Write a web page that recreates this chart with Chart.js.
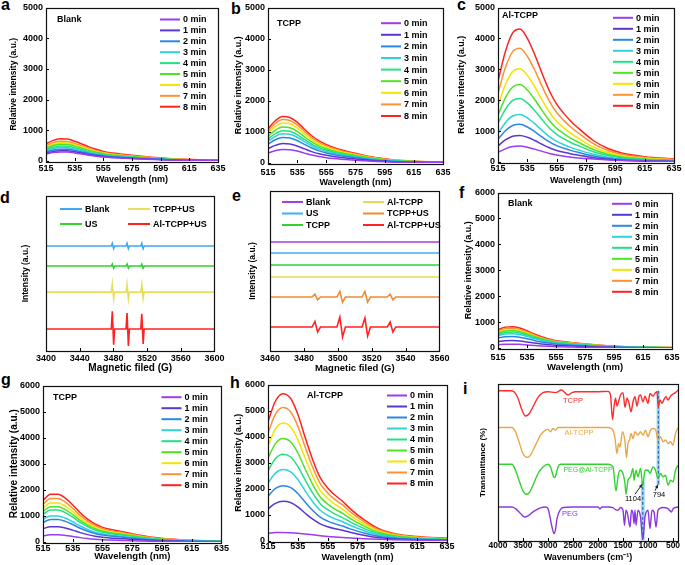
<!DOCTYPE html>
<html><head><meta charset="utf-8">
<script src="https://cdn.jsdelivr.net/npm/chart.js@4.4.0/dist/chart.umd.min.js"></script>
<style>
html,body{margin:0;padding:0;background:#fff;width:685px;height:565px;overflow:hidden;position:relative;}
.p{position:absolute;}
.lt{position:absolute;font-family:"Liberation Sans",Arial,sans-serif;font-weight:bold;font-size:16px;line-height:16px;color:#000;}
</style></head><body>
<div class="lt" style="left:1px;top:-3.5px">a</div>
<div class="lt" style="left:231px;top:0.5px">b</div>
<div class="lt" style="left:457px;top:-3.5px">c</div>
<div class="lt" style="left:0px;top:189.8px">d</div>
<div class="lt" style="left:232px;top:188.2px">e</div>
<div class="lt" style="left:459px;top:184.8px">f</div>
<div class="lt" style="left:1px;top:371.5px">g</div>
<div class="lt" style="left:230px;top:374.8px">h</div>
<div class="lt" style="left:463px;top:380.5px">i</div>
<script>
// ---------------- DATA ----------------
const WL = [515, 520, 525, 530, 535, 540, 545, 550, 555, 560, 565, 570, 580, 590, 600, 615, 635];
const WL_TICKS = [515, 535, 555, 575, 595, 615, 635];
const Y5_TICKS = [0, 1000, 2000, 3000, 4000, 5000];
const Y6_TICKS = [0, 1000, 2000, 3000, 4000, 5000, 6000];
const TIMES = ['0 min', '1 min', '2 min', '3 min', '4 min', '5 min', '6 min', '7 min', '8 min'];

// (a) Blank, 5000 scale
const A_BLANK = [
  [228,276,297,294,264,228,189,156,129,111,99,87,66,48,33,21,12],
  [258,313,337,333,299,258,214,177,146,126,112,99,75,54,37,24,14],
  [296,359,386,382,343,296,246,203,168,144,129,113,86,62,43,27,16],
  [334,405,436,431,387,334,277,229,189,163,145,128,97,70,48,31,18],
  [372,451,485,480,431,372,309,255,211,181,162,142,108,78,54,34,20],
  [418,506,545,539,484,418,347,286,237,204,182,160,121,88,61,39,22],
  [456,552,594,588,528,456,378,312,258,222,198,174,132,96,66,42,24],
  [494,598,644,637,572,494,410,338,280,241,215,189,143,104,72,46,26],
  [555,672,723,715,642,555,460,380,314,270,241,212,161,117,80,51,29]
];
// (b) TCPP, 5000 scale
const B_TCPP = [
  [321,396,436,427,383,317,255,207,172,145,123,106,75,48,31,18,11],
  [460,567,624,611,548,454,365,296,246,208,176,151,107,69,44,25,16],
  [606,747,822,805,722,598,481,390,324,274,232,199,141,91,58,33,21],
  [694,855,941,922,827,684,551,447,371,314,266,228,162,105,67,38,24],
  [767,945,1040,1019,914,756,609,494,410,347,294,252,179,116,74,42,26],
  [854,1053,1158,1135,1018,842,679,550,456,386,328,281,199,129,82,47,29],
  [949,1170,1287,1261,1131,936,754,611,507,429,364,312,221,143,91,52,33],
  [1029,1269,1396,1368,1227,1015,818,663,550,465,395,338,240,155,99,56,35],
  [1102,1359,1495,1465,1314,1087,876,710,589,498,423,362,257,166,106,60,38]
];
// (c) Al-TCPP, 5000 scale
const C_ALTCPP = [
  [312,426,499,515,478,416,343,276,224,187,156,130,95,65,45,28,15],
  [522,713,835,861,800,696,574,461,374,313,261,218,139,87,57,35,19],
  [738,1009,1181,1218,1132,984,812,652,529,443,369,308,197,123,80,49,27],
  [930,1271,1488,1535,1426,1240,1023,822,667,558,465,388,248,155,101,62,34],
  [1248,1706,1997,2059,1914,1664,1373,1102,894,749,624,520,333,208,135,83,46],
  [1518,2075,2429,2505,2328,2024,1670,1341,1088,911,759,633,405,253,164,101,56],
  [1830,2501,2928,3020,2806,2440,2013,1617,1312,1098,915,763,488,305,198,122,67],
  [2232,3050,3571,3683,3422,2976,2455,1972,1600,1339,1116,930,595,372,242,149,82],
  [2610,3567,4176,4307,4002,3480,2871,2306,1871,1566,1305,1088,696,435,283,174,96]
];
// (f) Blank, 6000 scale
const F_BLANK = [
  [128,146,149,140,120,98,78,63,51,45,39,33,24,17,11,6,3],
  [247,281,287,270,232,189,151,122,99,87,75,64,46,32,20,12,6],
  [383,437,446,419,360,293,234,189,153,135,117,99,72,50,32,18,9],
  [476,543,554,521,448,364,291,235,190,168,146,123,90,62,39,22,11],
  [527,601,614,577,496,403,322,260,211,186,161,136,99,68,43,25,12],
  [578,660,673,632,544,442,354,286,231,204,177,150,109,75,48,27,14],
  [612,698,713,670,576,468,374,302,245,216,187,158,115,79,50,29,14],
  [655,747,762,716,616,501,400,323,262,231,200,169,123,85,54,31,15],
  [706,805,822,772,664,540,432,349,282,249,216,183,133,91,58,33,17]
];
// (g) TCPP, 6000 scale
const G_TCPP = [
  [238,274,274,252,213,168,132,104,84,73,64,56,39,25,17,10,6],
  [510,588,588,540,456,360,282,222,180,156,138,120,84,54,36,21,12],
  [748,862,862,792,669,528,414,326,264,229,202,176,123,79,53,31,18],
  [867,1000,1000,918,775,612,479,377,306,265,235,204,143,92,61,36,20],
  [1063,1225,1225,1125,950,750,588,463,375,325,288,250,175,113,75,44,25],
  [1173,1352,1352,1242,1049,828,649,511,414,359,317,276,193,124,83,48,28],
  [1301,1499,1499,1377,1163,918,719,566,459,398,352,306,214,138,92,54,31],
  [1445,1666,1666,1530,1292,1020,799,629,510,442,391,340,238,153,102,60,34],
  [1590,1833,1833,1683,1421,1122,879,692,561,486,430,374,262,168,112,65,37]
];
// (h) Al-TCPP, 6000 scale
const H_ALTCPP = [
  [300,325,330,320,300,270,240,205,175,150,130,115,90,65,50,35,25],
  [1231,1444,1520,1474,1307,1064,836,654,547,471,410,334,213,122,76,46,27],
  [1717,2014,2120,2056,1823,1484,1166,912,763,657,572,466,297,170,106,64,38],
  [2219,2603,2740,2658,2356,1918,1507,1178,986,849,740,603,384,219,137,82,49],
  [2697,3164,3330,3230,2864,2331,1832,1432,1199,1032,899,733,466,266,167,100,60],
  [3183,3734,3930,3812,3380,2751,2162,1690,1415,1218,1061,865,550,314,197,118,71],
  [3661,4294,4520,4384,3887,3164,2486,1944,1627,1401,1220,994,633,362,226,136,81],
  [4147,4864,5120,4966,4403,3584,2816,2202,1843,1587,1382,1126,717,410,256,154,92],
  [4577,5368,5650,5481,4859,3955,3108,2430,2034,1752,1526,1243,791,452,283,170,102]
];

// (d) EPR
const D_LABELS = ['Blank', 'US', 'TCPP+US', 'Al-TCPP+US'];
const D_TICKS = [3400, 3440, 3480, 3520, 3560, 3600];
const D_FIELD = [3400, 3477.5, 3478.7, 3480.3, 3481.5, 3495, 3496.2, 3497.8, 3499, 3512.5, 3513.7, 3515.3, 3516.5, 3600];
const D_BLANK = [67.7, 67.7, 69.4, 66, 67.7, 67.7, 69.4, 66, 67.7, 67.7, 69.4, 66, 67.7, 67.7];
const D_US = [54.8, 54.8, 56.1, 53.5, 54.8, 54.8, 56.1, 53.5, 54.8, 54.8, 56.1, 53.5, 54.8, 54.8];
const D_TCPPUS = [38, 38, 43.2, 33.7, 38, 38, 43, 33.5, 38, 38, 42.8, 34, 38, 38];
const D_ALUS = [14.2, 14.2, 25.6, 4.1, 14.2, 14.2, 24.5, 3.2, 14.2, 14.2, 24, 4.5, 14.2, 14.2];

// (e) EPR
const E_LABELS = ['Blank', 'US', 'TCPP', 'Al-TCPP', 'TCPP+US', 'Al-TCPP+US'];
const E_TICKS = [3460, 3480, 3500, 3520, 3540, 3560];
const E_FIELD = [3460, 3484.8, 3486.5, 3488.1, 3489.8, 3499.5, 3501.2, 3502.8, 3504.5, 3514.3, 3516, 3517.6, 3519.3, 3529.2, 3530.9, 3532.5, 3534.2, 3560];
const E_BLANK = [68.1, 68.1, 68.1, 68.1, 68.1, 68.1, 68.1, 68.1, 68.1, 68.1, 68.1, 68.1, 68.1, 68.1, 68.1, 68.1, 68.1, 68.1];
const E_US = [61.25, 61.25, 61.25, 61.25, 61.25, 61.25, 61.25, 61.25, 61.25, 61.25, 61.25, 61.25, 61.25, 61.25, 61.25, 61.25, 61.25, 61.25];
const E_TCPP = [53.75, 53.75, 53.75, 53.75, 53.75, 53.75, 53.75, 53.75, 53.75, 53.75, 53.75, 53.75, 53.75, 53.75, 53.75, 53.75, 53.75, 53.75];
const E_ALTCPP = [46.25, 46.25, 46.25, 46.25, 46.25, 46.25, 46.25, 46.25, 46.25, 46.25, 46.25, 46.25, 46.25, 46.25, 46.25, 46.25, 46.25, 46.25];
const E_TCPPUS = [33.75, 33.75, 35.6, 32, 33.75, 33.75, 37.2, 30.6, 33.75, 33.75, 37.2, 30.6, 33.75, 33.75, 35.6, 32, 33.75, 33.75];
const E_ALUS = [15, 15, 18.5, 11.9, 15, 15, 21.2, 8.8, 15, 15, 20.6, 9.4, 15, 15, 18.1, 11.9, 15, 15];

// (i) FTIR
const I_TICKS = [4000, 3500, 3000, 2500, 2000, 1500, 1000, 500];
const I_TCPP_WN = [4000,3750,3680,3600,3520,3450,3380,3300,3200,3100,3000,2850,2730,2600,2520,2450,2000,1800,1750,1710,1680,1650,1620,1590,1550,1500,1460,1420,1380,1340,1300,1260,1220,1180,1150,1100,1060,1000,960,900,850,820,794,760,720,680,640,600,550,500,450,400];
const I_TCPP_T = [95.7,95.7,95.1,90.9,83.4,79.6,80.9,85.5,91.5,94.5,95.1,94.5,96.2,93.0,94.5,95.1,95.1,95.3,93.0,77.4,85.5,90.9,86.0,88.7,93.0,94.5,85.1,90.9,87.7,82.3,88.7,91.9,86.0,92.3,93.0,88.7,92.3,87.7,94.0,92.3,94.5,95.1,85.5,89.8,87.7,90.2,91.9,89.8,92.3,93.6,94.5,96.2];
const I_AL_WN = [4000,3720,3650,3580,3500,3420,3350,3250,3150,3050,3000,2950,2900,2850,2800,1800,1700,1660,1620,1590,1560,1510,1460,1430,1400,1370,1340,1300,1260,1200,1150,1100,1050,1000,950,900,850,800,750,700,650,600,550,500,450,400];
const I_AL_T = [72.3,72.3,69.6,63.2,55.7,53.2,54.7,61.1,67.4,70.6,71.1,69.6,71.7,70.6,72.3,72.3,70.6,65.3,55.7,62.1,59.8,69.6,63.2,53.2,62.1,64.3,68.5,65.3,69.6,67.4,69.6,67.4,70.6,66.4,70.6,71.7,71.1,64.3,66.4,63.2,64.3,62.1,63.2,61.1,68.5,72.3];
const I_PEGAL_WN = [4000,3720,3650,3580,3500,3440,3380,3300,3200,3100,3000,2950,2900,2880,2850,2800,2750,1800,1700,1640,1600,1560,1500,1460,1440,1400,1350,1300,1280,1240,1200,1150,1104,1060,1000,960,900,850,800,750,700,650,600,550,500,450,400];
const I_PEGAL_T = [48.9,48.9,45.1,38.7,31.9,29.8,30.6,35.5,43.0,47.2,48.9,47.2,41.9,40.4,41.3,47.2,48.9,48.9,47.2,31.9,40.9,45.1,43.0,36.6,29.8,38.7,40.9,46.2,38.7,45.1,40.9,46.2,35.5,45.1,45.1,43.0,47.2,45.1,39.8,43.0,40.9,41.9,35.5,38.7,37.7,45.1,48.3];
const I_PEG_WN = [4000,3720,3650,3560,3470,3400,3300,3150,3050,3000,2960,2920,2880,2850,2820,2760,2700,2500,2000,1960,1920,1800,1700,1650,1600,1550,1500,1470,1440,1410,1360,1330,1300,1280,1260,1240,1200,1150,1104,1060,1000,960,920,880,840,800,700,600,530,500,400];
const I_PEG_T = [21.7,21.7,20.6,17.9,15.3,16.0,18.5,21.1,21.7,20.6,15.3,8.9,4.7,7.2,14.3,19.6,21.3,21.7,21.7,20.4,21.7,21.7,21.3,20.0,19.6,21.3,19.6,10.0,19.6,17.4,8.9,19.6,17.4,11.1,19.6,10.0,19.6,15.3,0.9,15.3,19.6,7.9,19.6,18.5,8.9,19.6,21.3,20.6,18.5,20.6,21.7];
const I_LABELS = ['TCPP', 'Al-TCPP', 'PEG@Al-TCPP', 'PEG'];
const I_PEAKS = [1104, 794];

// ---------------- STYLE ----------------
const FONT = '"Liberation Sans", Arial, sans-serif';
const TIME_COLORS = ['#9b3cf0','#5a36d2','#2a88e2','#2fd2dc','#22e184','#52e224','#f4e400','#ff9034','#ff2222'];
const D_COLORS = ['#3fa9f0', '#2fd22f', '#e6e05c', '#ff2222'];
const E_COLORS = ['#a840d8', '#3cb0f0', '#2fd22f', '#e2dc4c', '#f28a34', '#ff2222'];
const I_COLORS = ['#ff2a2a', '#e8a846', '#32d232', '#8a38e0'];

// ---------------- PLUGIN ----------------
const deco = {
  id: 'deco',
  beforeDatasetsDraw(chart, args, o) {
    if (!o.bands) return;
    const {ctx, scales: {x, y}} = chart;
    ctx.save();
    o.bands.forEach(b => {
      const x1 = x.getPixelForValue(b.x + b.hw), x2 = x.getPixelForValue(b.x - b.hw);
      const y1 = y.getPixelForValue(b.y2), y2 = y.getPixelForValue(b.y1);
      ctx.fillStyle = 'rgba(130,205,235,0.75)';
      ctx.fillRect(Math.min(x1,x2), y1, Math.abs(x2-x1), y2-y1);
      ctx.strokeStyle = '#1f4ea0'; ctx.lineWidth = 1; ctx.setLineDash([3,2]);
      const xc = x.getPixelForValue(b.x);
      ctx.beginPath(); ctx.moveTo(xc, y1); ctx.lineTo(xc, y2); ctx.stroke();
      ctx.setLineDash([]);
    });
    ctx.restore();
  },
  afterDraw(chart, args, o) {
    const {ctx, chartArea: ca, scales: {x, y}} = chart;
    ctx.save();
    ctx.strokeStyle = '#000'; ctx.lineWidth = 1;
    ctx.beginPath();
    x.ticks.forEach(t => { const px = Math.round(x.getPixelForValue(t.value)) + 0.5; ctx.moveTo(px, ca.bottom); ctx.lineTo(px, ca.bottom - 3); });
    if (y.options.ticks.display) y.ticks.forEach(t => { const py = Math.round(y.getPixelForValue(t.value)) + 0.5; ctx.moveTo(ca.left, py); ctx.lineTo(ca.left + 3, py); });
    ctx.stroke();
    ctx.lineWidth = 1.2; ctx.strokeStyle = '#111';
    ctx.strokeRect(Math.round(ca.left) + 0.5, Math.round(ca.top) + 0.5, Math.round(ca.right - ca.left), Math.round(ca.bottom - ca.top));
    if (o.legend) {
      const L = o.legend;
      ctx.font = 'bold ' + L.size + 'px ' + FONT;
      ctx.textBaseline = 'middle'; ctx.textAlign = 'left';
      chart.data.datasets.forEach((ds, i) => {
        const col = Math.floor(i / L.rows), row = i % L.rows;
        const cx = L.cols[col];
        const lx = cx < 0 ? ca.right + cx : ca.left + cx;
        const ly = ca.top + L.y0 + row * L.dy;
        ctx.strokeStyle = ds.borderColor; ctx.lineWidth = 2;
        ctx.beginPath(); ctx.moveTo(lx, ly); ctx.lineTo(lx + L.len, ly); ctx.stroke();
        ctx.fillStyle = '#000';
        ctx.fillText(ds.label, lx + L.len + L.gap, ly + 0.5);
      });
    }
    (o.arrows || []).forEach(a => {
      const x1 = x.getPixelForValue(a.x1), y1 = y.getPixelForValue(a.y1);
      const x2 = x.getPixelForValue(a.x2), y2 = y.getPixelForValue(a.y2);
      ctx.strokeStyle = '#222'; ctx.fillStyle = '#222'; ctx.lineWidth = 1;
      ctx.beginPath(); ctx.moveTo(x1, y1); ctx.lineTo(x2, y2); ctx.stroke();
      const ang = Math.atan2(y2 - y1, x2 - x1);
      ctx.beginPath(); ctx.moveTo(x2, y2);
      ctx.lineTo(x2 - 4 * Math.cos(ang - 0.45), y2 - 4 * Math.sin(ang - 0.45));
      ctx.lineTo(x2 - 4 * Math.cos(ang + 0.45), y2 - 4 * Math.sin(ang + 0.45));
      ctx.closePath(); ctx.fill();
    });
    (o.labels || []).forEach(l => {
      ctx.font = (l.weight || 'bold') + ' ' + l.size + 'px ' + FONT;
      ctx.fillStyle = l.color || '#000';
      ctx.textBaseline = 'middle';
      ctx.textAlign = l.align || 'left';
      let px, py;
      if (l.data) { px = x.getPixelForValue(l.x); py = y.getPixelForValue(l.y); }
      else { px = ca.left + l.x; py = ca.top + l.y; }
      ctx.fillText(l.text, px, py);
    });
    ctx.restore();
  }
};
Chart.register(deco);

// ---------------- LAYOUT ----------------
const LAYOUT = {
  a: {x: 9,   y: 0,   w: 220, h: 185, yw: 37, pt: 7, pr: 9, xh: 24, tp: 3.5, yts: 8.5, xts: 9},
  b: {x: 233, y: 0,   w: 223, h: 188, yw: 35, pt: 6, pr: 9, xh: 25, tp: 5.5, yts: 9,   xts: 9},
  c: {x: 456, y: 0,   w: 228, h: 186, yw: 42, pt: 7, pr: 9, xh: 24, tp: 2.5, yts: 9,   xts: 9},
  d: {x: 21,  y: 189, w: 207, h: 185, yw: 25, pt: 7, pr: 9, xh: 23, tp: 3.5, yts: 8.5, xts: 10},
  e: {x: 248, y: 184, w: 205, h: 190, yw: 22, pt: 7, pr: 9, xh: 23, tp: 3.5, yts: 8.5, xts: 9.5},
  f: {x: 463, y: 185, w: 222, h: 188, yw: 35, pt: 7, pr: 8, xh: 25, tp: 5.5, yts: 9,   xts: 9.5},
  g: {x: 8,   y: 378, w: 223, h: 184, yw: 35, pt: 7, pr: 9, xh: 20, tp: 2,   yts: 10,  xts: 9.5},
  h: {x: 233, y: 377, w: 223, h: 186, yw: 35, pt: 7, pr: 9, xh: 22, tp: 1.5, yts: 9,   xts: 9},
  i: {x: 478, y: 377, w: 207, h: 186, yw: 20, pt: 7, pr: 7, xh: 22, tp: 0.5, yts: 8,   xts: 9}
};

function makeChart(key, datasets, xc, yc, decoOpts) {
  const L = LAYOUT[key];
  const div = document.createElement('div');
  div.className = 'p';
  div.style.left = L.x + 'px'; div.style.top = L.y + 'px';
  div.style.width = L.w + 'px'; div.style.height = L.h + 'px';
  const cv = document.createElement('canvas');
  div.appendChild(cv);
  document.body.appendChild(div);
  const tickFont = {family: FONT, size: xc.tickSize || 9, weight: 'bold', lineHeight: 1};
  new Chart(cv, {
    type: 'line',
    data: {datasets},
    options: {
      responsive: true, maintainAspectRatio: false, animation: false, events: [],
      layout: {padding: {top: L.pt, right: L.pr, left: 0, bottom: 0}},
      plugins: {legend: {display: false}, tooltip: {enabled: false}, deco: decoOpts},
      elements: {point: {radius: 0}},
      scales: {
        x: {
          type: 'linear', min: xc.min, max: xc.max, reverse: !!xc.reverse,
          grid: {display: false, drawTicks: false, tickLength: 0},
          border: {display: false},
          afterBuildTicks: s => { s.ticks = xc.ticks.map(v => ({value: v})); },
          afterFit: s => { s.height = L.xh; },
          ticks: {color: '#000', font: tickFont, padding: L.tp, maxRotation: 0, autoSkip: false, callback: v => String(v)},
          title: {display: true, text: xc.title, color: '#000', padding: 0, font: {family: FONT, size: L.xts, weight: 'bold'}}
        },
        y: {
          type: 'linear', min: yc.min, max: yc.max,
          grid: {display: false, drawTicks: false, tickLength: 0},
          border: {display: false},
          afterBuildTicks: s => { s.ticks = (yc.ticks || []).map(v => ({value: v})); },
          afterFit: s => { s.width = L.yw; },
          ticks: {display: !!yc.ticks, color: '#000', font: tickFont, padding: 3, callback: v => String(v)},
          title: {display: true, text: yc.title, color: '#000', padding: 0, font: {family: FONT, size: L.yts, weight: 'bold'}}
        }
      }
    }
  });
}

function spectraSets(rows) {
  return rows.map((vals, i) => ({
    label: TIMES[i],
    data: WL.map((w, j) => ({x: w, y: vals[j]})),
    borderColor: TIME_COLORS[i], borderWidth: 1.5,
    cubicInterpolationMode: 'monotone', fill: false
  }));
}
function xySet(label, xs, ys, color, width, mono) {
  return {label, data: xs.map((v, j) => ({x: v, y: ys[j]})), borderColor: color, borderWidth: width,
          tension: 0, cubicInterpolationMode: mono ? 'monotone' : 'default', fill: false};
}

const WL_X = {min: 515, max: 635, ticks: WL_TICKS, title: 'Wavelength (nm)'};
const RI = 'Relative intensity (a.u.)';
function specLegend(y0, dy, col) { return {cols: [col], rows: 9, y0, dy, len: 20, gap: 3, size: 9}; }

makeChart('a', spectraSets(A_BLANK), WL_X, {min: 0, max: 5000, ticks: Y5_TICKS, title: RI},
  {legend: specLegend(12, 10.9, -58), labels: [{text: 'Blank', x: 11, y: 12, size: 9}]});
makeChart('b', spectraSets(B_TCPP), WL_X, {min: 0, max: 5000, ticks: Y5_TICKS, title: RI},
  {legend: specLegend(15.7, 11.6, -62), labels: [{text: 'TCPP', x: 9, y: 16, size: 9}]});
makeChart('c', spectraSets(C_ALTCPP), WL_X, {min: 0, max: 5000, ticks: Y5_TICKS, title: RI},
  {legend: specLegend(10.3, 11, -61), labels: [{text: 'Al-TCPP', x: 4, y: 8, size: 9}]});

makeChart('d', [
  xySet(D_LABELS[0], D_FIELD, D_BLANK, D_COLORS[0], 1.6),
  xySet(D_LABELS[1], D_FIELD, D_US, D_COLORS[1], 1.6),
  xySet(D_LABELS[2], D_FIELD, D_TCPPUS, D_COLORS[2], 1.6),
  xySet(D_LABELS[3], D_FIELD, D_ALUS, D_COLORS[3], 1.6)
], {min: 3400, max: 3600, ticks: D_TICKS, title: 'Magnetic filed (G)'}, {min: 0, max: 100, title: 'Intensity (a.u.)'},
  {legend: {cols: [14, 82], rows: 2, y0: 13, dy: 15, len: 22, gap: 3, size: 9}});

makeChart('e', [
  xySet(E_LABELS[0], E_FIELD, E_BLANK, E_COLORS[0], 1.6),
  xySet(E_LABELS[1], E_FIELD, E_US, E_COLORS[1], 1.6),
  xySet(E_LABELS[2], E_FIELD, E_TCPP, E_COLORS[2], 1.6),
  xySet(E_LABELS[3], E_FIELD, E_ALTCPP, E_COLORS[3], 1.6),
  xySet(E_LABELS[4], E_FIELD, E_TCPPUS, E_COLORS[4], 1.6),
  xySet(E_LABELS[5], E_FIELD, E_ALUS, E_COLORS[5], 1.6)
], {min: 3460, max: 3560, ticks: E_TICKS, title: 'Magnetic filed (G)'}, {min: 0, max: 100, title: 'Intensity (a.u.)'},
  {legend: {cols: [12, 93], rows: 3, y0: 11, dy: 11.5, len: 21, gap: 3, size: 9}});

makeChart('f', spectraSets(F_BLANK), WL_X, {min: 0, max: 6000, ticks: Y6_TICKS, title: RI},
  {legend: specLegend(11.3, 11, -60), labels: [{text: 'Blank', x: 10, y: 11, size: 9}]});
makeChart('g', spectraSets(G_TCPP), WL_X, {min: 0, max: 6000, ticks: Y6_TICKS, title: RI},
  {legend: specLegend(11.7, 11, -60), labels: [{text: 'TCPP', x: 10, y: 12, size: 9}]});
makeChart('h', spectraSets(H_ALTCPP), WL_X, {min: 0, max: 6000, ticks: Y6_TICKS, title: RI},
  {legend: specLegend(11, 11, -60), labels: [{text: 'Al-TCPP', x: 39, y: 11, size: 9}]});

makeChart('i', [
  xySet(I_LABELS[0], I_TCPP_WN, I_TCPP_T, I_COLORS[0], 1.4, true),
  xySet(I_LABELS[1], I_AL_WN, I_AL_T, I_COLORS[1], 1.4, true),
  xySet(I_LABELS[2], I_PEGAL_WN, I_PEGAL_T, I_COLORS[2], 1.4, true),
  xySet(I_LABELS[3], I_PEG_WN, I_PEG_T, I_COLORS[3], 1.4, true)
], {min: 400, max: 4000, reverse: true, ticks: I_TICKS, title: 'Wavenumbers (cm\u207B\u00B9)', tickSize: 8.5},
  {min: 0, max: 100, title: 'Transmittance (%)'},
  {
    bands: [{x: I_PEAKS[1], hw: 35, y1: 35.5, y2: 95.7}, {x: I_PEAKS[0], hw: 40, y1: 0.4, y2: 37.7}],
    arrows: [{x1: 1260, y1: 29.8, x2: 1114, y2: 36.2}, {x1: 860, y1: 32.0, x2: 800, y2: 36.0}],
    labels: [
      {text: I_LABELS[0], data: true, x: 2500, y: 89.2, size: 7.5, weight: 'normal', color: I_COLORS[0], align: 'center'},
      {text: I_LABELS[1], data: true, x: 2380, y: 68.7, size: 7.5, weight: 'normal', color: I_COLORS[1], align: 'center'},
      {text: I_LABELS[2], data: true, x: 2200, y: 45.1, size: 7, weight: 'normal', color: I_COLORS[2], align: 'center'},
      {text: I_LABELS[3], data: true, x: 2560, y: 17.0, size: 7.5, weight: 'normal', color: I_COLORS[3], align: 'center'},
      {text: String(I_PEAKS[0]), data: true, x: 1300, y: 26.5, size: 7.5, weight: 'normal', color: '#000', align: 'center'},
      {text: String(I_PEAKS[1]), data: true, x: 780, y: 29.5, size: 7.5, weight: 'normal', color: '#000', align: 'center'}
    ]
  });
</script>
</body></html>
